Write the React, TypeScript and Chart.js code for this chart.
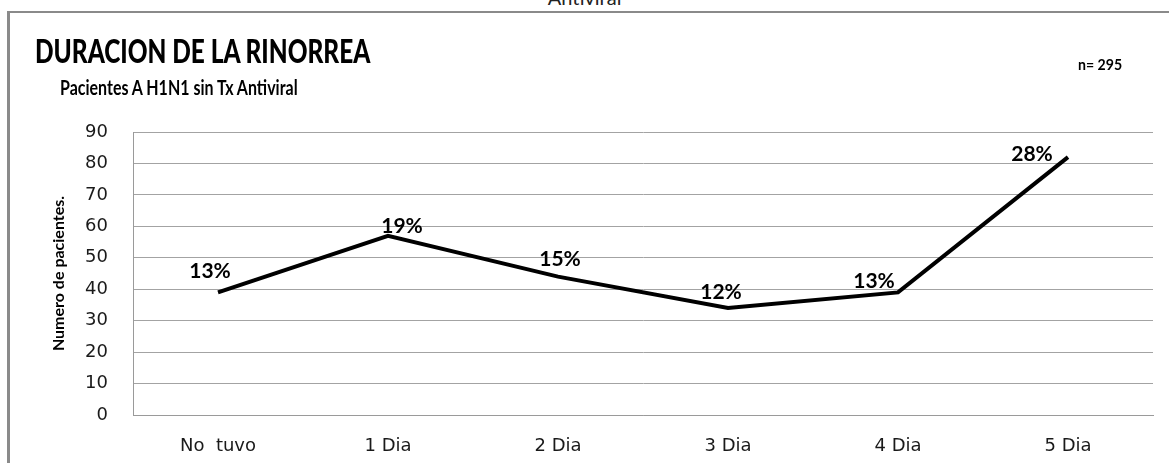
import React, { useEffect, useRef } from "react";
import { Chart, registerables } from "chart.js";

Chart.register(...registerables);

const categories = ["No  tuvo", "1 Dia", "2 Dia", "3 Dia", "4 Dia", "5 Dia"];
const patients = [39, 57, 44, 34, 39, 82];
const percentLabels = ["13%", "19%", "15%", "12%", "13%", "28%"];
const yMin = 0;
const yMax = 90;
const yStep = 10;

const chartTitle = "DURACION DE LA RINORREA";
const chartSubtitle = "Pacientes A H1N1 sin Tx Antiviral";
const sampleSize = "n= 295";
const yAxisTitle = "Numero de pacientes.";
const topCutText = "Antiviral";

const FONT = "Lato, 'Open Sans', sans-serif";
const TICK_FONT = "'DejaVu Sans', Verdana, sans-serif";

const pointLabelPlugin = {
  id: "pointLabels",
  afterDatasetsDraw(chart: any) {
    const offsets = [[-8, -21], [14, -10], [2, -17], [-7, -16], [-24, -11], [-36, -3]];
    const meta = chart.getDatasetMeta(0);
    const ctx = chart.ctx;
    ctx.save();
    ctx.font = `bold 21px ${FONT}`;
    ctx.fillStyle = "#000";
    ctx.textAlign = "center";
    ctx.textBaseline = "middle";
    meta.data.forEach((pt: any, i: number) => {
      const [dx, dy] = offsets[i];
      ctx.fillText(percentLabels[i], pt.x + dx, pt.y + dy);
    });
    ctx.restore();
  },
};

export default function App() {
  const ref = useRef<HTMLCanvasElement | null>(null);
  useEffect(() => {
    document.body.style.margin = "0";
    const c = ref.current;
    if (!c) return;
    const chart = new Chart(c, {
      type: "line",
      data: {
        labels: categories,
        datasets: [
          {
            data: patients,
            borderColor: "#000",
            borderWidth: 4,
            pointRadius: 0,
            tension: 0,
            fill: false,
          },
        ],
      },
      options: {
        responsive: false,
        devicePixelRatio: 1,
        animation: false,
        layout: { padding: { top: 132, right: 16, bottom: 0, left: 0 } },
        plugins: { legend: { display: false }, tooltip: { enabled: false }, title: { display: false } },
        scales: {
          x: {
            offset: true,
            grid: { display: false, drawTicks: false },
            border: { display: true, color: "#9a9a9a", width: 1 },
            ticks: { color: "#1a1a1a", font: { family: TICK_FONT, size: 18 }, padding: 21 },
            afterFit: (s: any) => {
              s.height = 48;
            },
          },
          y: {
            min: yMin,
            max: yMax,
            grid: { color: "#a3a3a3", lineWidth: 1, drawTicks: false },
            border: { display: true, color: "#9a9a9a", width: 1 },
            ticks: { stepSize: yStep, color: "#1a1a1a", font: { family: TICK_FONT, size: 18 }, padding: 25 },
            title: {
              display: true,
              text: yAxisTitle,
              color: "#000",
              font: { family: FONT, size: 16, weight: "bold" },
              padding: { top: 49, bottom: 0 },
            },
            afterFit: (s: any) => {
              s.width = 133;
            },
          },
        },
      },
      plugins: [pointLabelPlugin],
    });
    return () => chart.destroy();
  }, []);

  return (
    <div style={{ position: "relative", width: 1169, height: 463, overflow: "hidden", background: "#fff" }}>
      <div
        style={{
          position: "absolute",
          left: 0,
          width: 1169,
          top: -15,
          textAlign: "center",
          font: `20px ${FONT}`,
          color: "#222",
        }}
      >
        {topCutText}
      </div>
      <div
        style={{
          position: "absolute",
          left: 7,
          top: 11,
          width: 1200,
          height: 500,
          borderTop: "2px solid #8a8a8a",
          borderLeft: "3px solid #8a8a8a",
        }}
      />
      <canvas ref={ref} width={1169} height={463} style={{ position: "absolute", left: 0, top: 0 }} />
      <div
        style={{
          position: "absolute",
          left: 35,
          top: 30,
          font: `900 33px ${FONT}`,
          color: "#000",
          whiteSpace: "nowrap",
          transform: "scaleX(0.74)",
          transformOrigin: "left top",
        }}
      >
        {chartTitle}
      </div>
      <div
        style={{
          position: "absolute",
          left: 60,
          top: 75,
          font: `bold 20px ${FONT}`,
          color: "#000",
          whiteSpace: "nowrap",
          transform: "scaleX(0.8)",
          transformOrigin: "left top",
        }}
      >
        {chartSubtitle}
      </div>
      <div
        style={{
          position: "absolute",
          left: 1078,
          top: 55,
          font: `bold 15px ${FONT}`,
          color: "#000",
          whiteSpace: "nowrap",
          transform: "scaleX(0.94)",
          transformOrigin: "left top",
        }}
      >
        {sampleSize}
      </div>
    </div>
  );
}
